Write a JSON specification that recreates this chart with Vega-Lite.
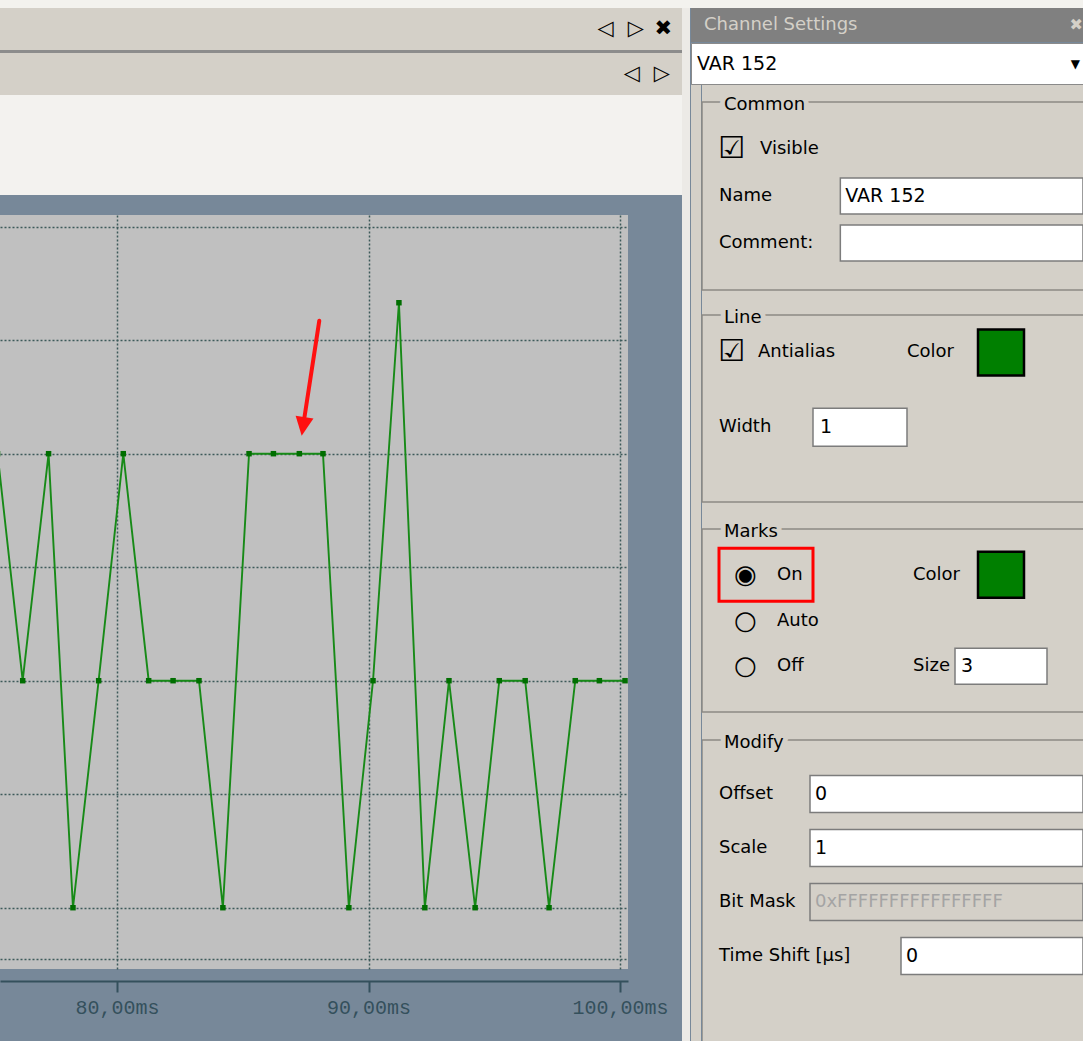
{
  "$schema": "https://vega.github.io/schema/vega-lite/v6.json",
  "background": "#778899",
  "padding": 0,
  "spacing": 0,
  "config": {"view": {"stroke": null}, "font": "DejaVu Sans"},
  "datasets": {
    "signal": [
      {"t": 75.25, "v": 4}, {"t": 76.25, "v": 2}, {"t": 77.28, "v": 4}, {"t": 78.25, "v": 0},
      {"t": 79.27, "v": 2}, {"t": 80.25, "v": 4}, {"t": 81.26, "v": 2}, {"t": 82.23, "v": 2},
      {"t": 83.26, "v": 2}, {"t": 84.21, "v": 0}, {"t": 85.25, "v": 4}, {"t": 86.22, "v": 4},
      {"t": 87.25, "v": 4}, {"t": 88.19, "v": 4}, {"t": 89.22, "v": 0}, {"t": 90.18, "v": 2},
      {"t": 91.21, "v": 5.33}, {"t": 92.24, "v": 0}, {"t": 93.2, "v": 2}, {"t": 94.24, "v": 0},
      {"t": 95.2, "v": 2}, {"t": 96.23, "v": 2}, {"t": 97.18, "v": 0}, {"t": 98.22, "v": 2},
      {"t": 99.18, "v": 2}, {"t": 100.2, "v": 2}
    ]
  },
  "vconcat": [
    {"width": 1083, "height": 8, "view": {"fill": "#f3f2ee"}, "data": {"values": []}, "mark": "point"},
    {
      "spacing": 0,
      "hconcat": [
        {
          "spacing": 20,
          "vconcat": [
            {
              "spacing": 0,
              "vconcat": [
                {
                  "width": 682, "height": 42, "view": {"fill": "#d4d0c8"},
                  "data": {"values": [{"slot": "right", "icons": "◁\u2002\u2006▷\u2002✖"}]},
                  "mark": {"type": "text", "align": "right", "baseline": "middle", "fontSize": 21, "color": "#000000"},
                  "encoding": {
                    "x": {"field": "slot", "type": "nominal", "axis": null, "scale": {"type": "point", "padding": 0, "domain": ["left", "right"], "range": [0, 672]}},
                    "text": {"field": "icons"}
                  }
                },
                {"width": 682, "height": 3, "view": {"fill": "#8c8c8c"}, "data": {"values": []}, "mark": "point"},
                {
                  "width": 682, "height": 42, "view": {"fill": "#d4d0c8"},
                  "data": {"values": [{"slot": "right", "icons": "◁\u2002\u2006▷"}]},
                  "mark": {"type": "text", "align": "right", "baseline": "middle", "fontSize": 21, "color": "#000000"},
                  "encoding": {
                    "x": {"field": "slot", "type": "nominal", "axis": null, "scale": {"type": "point", "padding": 0, "domain": ["left", "right"], "range": [0, 670]}},
                    "text": {"field": "icons"}
                  }
                },
                {"width": 682, "height": 100, "view": {"fill": "#f3f2ef"}, "data": {"values": []}, "mark": "point"}
              ]
            },
            {
              "width": 628, "height": 754, "view": {"fill": "#c0c0c0"},
              "encoding": {
                "x": {
                  "field": "t", "type": "quantitative",
                  "scale": {"domain": [75.348, 100.318], "nice": false, "zero": false},
                  "axis": {
                    "values": [80, 90, 100],
                    "labelExpr": "replace(format(datum.value, '.2f'), '.', ',') + 'ms'",
                    "title": null, "offset": 12,
                    "grid": true, "gridColor": "#3d5a5a", "gridDash": [2, 2], "gridWidth": 1.5,
                    "domainColor": "#34505c", "domainWidth": 2,
                    "tickColor": "#34505c", "tickWidth": 2, "tickSize": 11,
                    "labelFont": "Liberation Mono", "labelFontSize": 20, "labelColor": "#34505c",
                    "labelPadding": 5, "labelFlush": false, "labelOverlap": false
                  }
                },
                "y": {
                  "field": "v", "type": "quantitative",
                  "scale": {"domain": [-0.54, 6.103], "nice": false, "zero": false},
                  "axis": {
                    "values": [-0.456, 0, 1, 2, 3, 4, 5, 6],
                    "title": null, "labels": false, "ticks": false, "domain": false,
                    "grid": true, "gridColor": "#3d5a5a", "gridDash": [2, 2], "gridWidth": 1.5
                  }
                }
              },
              "layer": [
                {"data": {"name": "signal"}, "mark": {"type": "line", "color": "#178a17", "strokeWidth": 1.9, "clip": true}, "encoding": {}},
                {"data": {"name": "signal"}, "mark": {"type": "point", "shape": "square", "filled": true, "size": 30, "color": "#006e00", "opacity": 1, "clip": true}},
                {
                  "data": {"values": [{"t": 88.044, "v": 5.172, "t2": 87.455, "v2": 4.323}]},
                  "mark": {"type": "rule", "color": "#ff1010", "strokeWidth": 4, "strokeCap": "round"},
                  "encoding": {"x2": {"field": "t2"}, "y2": {"field": "v2"}}
                },
                {
                  "data": {"values": [{"t": 87.4, "v": 4.24}]},
                  "mark": {"type": "point", "shape": "M-0.95,-1L0.95,-1L0,1Z", "size": 361, "filled": true, "color": "#ff1010", "opacity": 1, "angle": 8.7}
                }
              ]
            }
          ]
        },
        {"width": 8, "height": 1033, "view": {"fill": "#eceae6"}, "data": {"values": []}, "mark": "point"},
        {
          "spacing": 0,
          "vconcat": [
            {
              "width": 393, "height": 34, "view": {"fill": "#808080"},
              "encoding": {
                "x": {"field": "slot", "type": "nominal", "axis": null, "scale": {"type": "point", "padding": 0, "domain": ["title", "close"], "range": [13, 392]}},
                "text": {"field": "text"}
              },
              "layer": [
                {"data": {"values": [{"slot": "title", "text": "Channel Settings"}]}, "mark": {"type": "text", "align": "left", "baseline": "middle", "fontSize": 18, "color": "#d4d0c8"}},
                {"data": {"values": [{"slot": "close", "text": "✖"}]}, "mark": {"type": "text", "align": "right", "baseline": "middle", "fontSize": 16, "color": "#d4d0c8"}}
              ]
            },
            {
              "width": 393, "height": 41, "view": {"fill": "#ffffff", "stroke": "#8a8a8a"},
              "encoding": {
                "x": {"field": "slot", "type": "nominal", "axis": null, "scale": {"type": "point", "padding": 0, "domain": ["text", "end"], "range": [6, 389]}},
                "text": {"field": "text"}
              },
              "layer": [
                {"data": {"values": [{"slot": "text", "text": "VAR 152"}]}, "mark": {"type": "text", "align": "left", "baseline": "middle", "fontSize": 19, "color": "#000000"}},
                {"data": {"values": [{"slot": "end", "text": "▼"}]}, "mark": {"type": "text", "align": "right", "baseline": "middle", "fontSize": 12, "color": "#000000"}}
              ]
            },
            {
              "spacing": 0,
              "hconcat": [
                {"width": 10, "height": 958, "view": {"fill": "#d4d0c8"}, "data": {"values": []}, "mark": "point"},
                {
                  "spacing": 0,
                  "vconcat": [
                    {
                      "width": 383, "height": 217, "view": {"fill": "#d4d0c8"},
                      "encoding": {
                        "y": {"field": "row", "type": "nominal", "axis": null, "scale": {"type": "point", "padding": 0, "domain": ["title", "Visible", "Name", "Comment", "bottom"], "range": [17, 205]}}
                      },
                      "layer": [
                        {"data": {"values": [{"row": "title", "end": "bottom"}]}, "mark": {"type": "rect", "filled": false, "color": "#8c8984", "strokeWidth": 1.5}, "encoding": {"y2": {"field": "end"}}},
                        {
                          "data": {"values": [{"row": "title", "col": "label", "text": "Common"}]},
                          "mark": {"type": "text", "align": "left", "baseline": "middle", "fontSize": 18, "dx": 5, "dy": 3, "fill": "#d4d0c8", "stroke": "#d4d0c8", "strokeWidth": 10},
                          "encoding": {"x": {"field": "col", "type": "nominal", "axis": null, "scale": {"type": "point", "padding": 0, "domain": ["label", "value", "label2", "end"], "range": [17, 381]}}, "text": {"field": "text"}}
                        },
                        {
                          "data": {"values": [{"row": "title", "col": "label", "text": "Common"}]},
                          "mark": {"type": "text", "align": "left", "baseline": "middle", "fontSize": 18, "dx": 5, "dy": 3, "color": "#000000"},
                          "encoding": {"x": {"field": "col", "type": "nominal"}, "text": {"field": "text"}}
                        },
                        {
                          "data": {"values": [{"row": "Name", "col": "value", "col2": "end"}, {"row": "Comment", "col": "value", "col2": "end"}]},
                          "mark": {"type": "rect", "height": 36, "fill": "#ffffff", "stroke": "#7c7c7c", "strokeWidth": 1.5},
                          "encoding": {"x": {"field": "col", "type": "nominal"}, "x2": {"field": "col2"}}
                        },
                        {
                          "data": {"values": [{"row": "Visible", "col": "label", "text": "☑"}]},
                          "mark": {"type": "text", "align": "left", "baseline": "middle", "fontSize": 30, "dx": -1, "color": "#000000"},
                          "encoding": {"x": {"field": "col", "type": "nominal"}, "text": {"field": "text"}}
                        },
                        {
                          "data": {"values": [{"row": "Visible", "col": "label", "text": "Visible"}]},
                          "mark": {"type": "text", "align": "left", "baseline": "middle", "fontSize": 18, "dx": 41, "color": "#000000"},
                          "encoding": {"x": {"field": "col", "type": "nominal"}, "text": {"field": "text"}}
                        },
                        {
                          "data": {"values": [{"row": "Name", "col": "label", "text": "Name"}, {"row": "Comment", "col": "label", "text": "Comment:"}]},
                          "mark": {"type": "text", "align": "left", "baseline": "middle", "fontSize": 18, "color": "#000000"},
                          "encoding": {"x": {"field": "col", "type": "nominal"}, "text": {"field": "text"}}
                        },
                        {
                          "data": {"values": [{"row": "Name", "col": "value", "text": "VAR 152"}]},
                          "mark": {"type": "text", "align": "left", "baseline": "middle", "fontSize": 19, "dx": 5, "color": "#000000"},
                          "encoding": {"x": {"field": "col", "type": "nominal"}, "text": {"field": "text"}}
                        }
                      ]
                    },
                    {
                      "width": 383, "height": 214, "view": {"fill": "#d4d0c8"},
                      "encoding": {
                        "y": {"field": "row", "type": "nominal", "axis": null, "scale": {"type": "point", "padding": 0, "domain": ["title", "Antialias", "g1", "Width", "g2", "bottom"], "range": [13, 200]}}
                      },
                      "layer": [
                        {"data": {"values": [{"row": "title", "end": "bottom"}]}, "mark": {"type": "rect", "filled": false, "color": "#8c8984", "strokeWidth": 1.5}, "encoding": {"y2": {"field": "end"}}},
                        {
                          "data": {"values": [{"row": "title", "col": "label", "text": "Line"}]},
                          "mark": {"type": "text", "align": "left", "baseline": "middle", "fontSize": 18, "dx": 5, "dy": 3, "fill": "#d4d0c8", "stroke": "#d4d0c8", "strokeWidth": 10},
                          "encoding": {"x": {"field": "col", "type": "nominal", "axis": null, "scale": {"type": "point", "padding": 0, "domain": ["label", "value", "label2", "swatch", "end"], "range": [17, 393]}}, "text": {"field": "text"}}
                        },
                        {
                          "data": {"values": [{"row": "title", "col": "label", "text": "Line"}]},
                          "mark": {"type": "text", "align": "left", "baseline": "middle", "fontSize": 18, "dx": 5, "dy": 3, "color": "#000000"},
                          "encoding": {"x": {"field": "col", "type": "nominal"}, "text": {"field": "text"}}
                        },
                        {
                          "data": {"values": [{"row": "Width", "col": "value", "col2": "label2"}]},
                          "mark": {"type": "rect", "height": 38, "fill": "#ffffff", "stroke": "#7c7c7c", "strokeWidth": 1.5},
                          "encoding": {"x": {"field": "col", "type": "nominal"}, "x2": {"field": "col2"}}
                        },
                        {
                          "data": {"values": [{"row": "Antialias", "col": "label", "text": "☑"}]},
                          "mark": {"type": "text", "align": "left", "baseline": "middle", "fontSize": 30, "dx": -1, "color": "#000000"},
                          "encoding": {"x": {"field": "col", "type": "nominal"}, "text": {"field": "text"}}
                        },
                        {
                          "data": {"values": [{"row": "Antialias", "col": "label", "text": "Antialias"}]},
                          "mark": {"type": "text", "align": "left", "baseline": "middle", "fontSize": 18, "dx": 39, "color": "#000000"},
                          "encoding": {"x": {"field": "col", "type": "nominal"}, "text": {"field": "text"}}
                        },
                        {
                          "data": {"values": [{"row": "Antialias", "col": "label2", "text": "Color"}, {"row": "Width", "col": "label", "text": "Width"}]},
                          "mark": {"type": "text", "align": "left", "baseline": "middle", "fontSize": 18, "color": "#000000"},
                          "encoding": {"x": {"field": "col", "type": "nominal"}, "text": {"field": "text"}}
                        },
                        {
                          "data": {"values": [{"row": "Width", "col": "value", "text": "1"}]},
                          "mark": {"type": "text", "align": "left", "baseline": "middle", "fontSize": 19, "dx": 7, "color": "#000000"},
                          "encoding": {"x": {"field": "col", "type": "nominal"}, "text": {"field": "text"}}
                        },
                        {
                          "data": {"values": [{"row": "Antialias", "col": "swatch"}]},
                          "mark": {"type": "point", "shape": "square", "size": 2116, "filled": true, "fill": "#007f00", "stroke": "#000000", "strokeWidth": 2.5, "opacity": 1},
                          "encoding": {"x": {"field": "col", "type": "nominal"}}
                        }
                      ]
                    },
                    {
                      "width": 383, "height": 210, "view": {"fill": "#d4d0c8"},
                      "encoding": {
                        "y": {"field": "row", "type": "nominal", "axis": null, "scale": {"type": "point", "padding": 0, "domain": ["title", "On", "Auto", "Off", "bottom"], "range": [13, 196]}}
                      },
                      "layer": [
                        {"data": {"values": [{"row": "title", "end": "bottom"}]}, "mark": {"type": "rect", "filled": false, "color": "#8c8984", "strokeWidth": 1.5}, "encoding": {"y2": {"field": "end"}}},
                        {
                          "data": {"values": [{"row": "title", "col": "label", "text": "Marks"}]},
                          "mark": {"type": "text", "align": "left", "baseline": "middle", "fontSize": 18, "dx": 5, "dy": 3, "fill": "#d4d0c8", "stroke": "#d4d0c8", "strokeWidth": 10},
                          "encoding": {"x": {"field": "col", "type": "nominal", "axis": null, "scale": {"type": "point", "padding": 0, "domain": ["label", "value", "label2", "swatch", "end"], "range": [17, 393]}}, "text": {"field": "text"}}
                        },
                        {
                          "data": {"values": [{"row": "title", "col": "label", "text": "Marks"}]},
                          "mark": {"type": "text", "align": "left", "baseline": "middle", "fontSize": 18, "dx": 5, "dy": 3, "color": "#000000"},
                          "encoding": {"x": {"field": "col", "type": "nominal"}, "text": {"field": "text"}}
                        },
                        {
                          "data": {"values": [{"row": "On", "col": "label", "col2": "value"}]},
                          "mark": {"type": "rect", "height": 53, "filled": false, "color": "#ff0000", "strokeWidth": 3},
                          "encoding": {"x": {"field": "col", "type": "nominal"}, "x2": {"field": "col2"}}
                        },
                        {
                          "data": {"values": [{"row": "Off", "col": "swatch"}]},
                          "mark": {"type": "rect", "height": 36, "width": 92, "fill": "#ffffff", "stroke": "#7c7c7c", "strokeWidth": 1.5},
                          "encoding": {"x": {"field": "col", "type": "nominal"}}
                        },
                        {
                          "data": {"values": [{"row": "On", "col": "label", "text": "◉"}, {"row": "Auto", "col": "label", "text": "○"}, {"row": "Off", "col": "label", "text": "○"}]},
                          "mark": {"type": "text", "align": "left", "baseline": "middle", "fontSize": 26, "dx": 15, "color": "#000000"},
                          "encoding": {"x": {"field": "col", "type": "nominal"}, "text": {"field": "text"}}
                        },
                        {
                          "data": {"values": [{"row": "On", "col": "label", "text": "On"}, {"row": "Auto", "col": "label", "text": "Auto"}, {"row": "Off", "col": "label", "text": "Off"}]},
                          "mark": {"type": "text", "align": "left", "baseline": "middle", "fontSize": 18, "dx": 58, "color": "#000000"},
                          "encoding": {"x": {"field": "col", "type": "nominal"}, "text": {"field": "text"}}
                        },
                        {
                          "data": {"values": [{"row": "On", "col": "label2", "text": "Color"}, {"row": "Off", "col": "label2", "text": "Size"}]},
                          "mark": {"type": "text", "align": "left", "baseline": "middle", "fontSize": 18, "dx": 6, "color": "#000000"},
                          "encoding": {"x": {"field": "col", "type": "nominal"}, "text": {"field": "text"}}
                        },
                        {
                          "data": {"values": [{"row": "Off", "col": "swatch", "text": "3"}]},
                          "mark": {"type": "text", "align": "left", "baseline": "middle", "fontSize": 19, "dx": -40, "color": "#000000"},
                          "encoding": {"x": {"field": "col", "type": "nominal"}, "text": {"field": "text"}}
                        },
                        {
                          "data": {"values": [{"row": "On", "col": "swatch"}]},
                          "mark": {"type": "point", "shape": "square", "size": 2116, "filled": true, "fill": "#007f00", "stroke": "#000000", "strokeWidth": 2.5, "opacity": 1},
                          "encoding": {"x": {"field": "col", "type": "nominal"}}
                        }
                      ]
                    },
                    {
                      "width": 383, "height": 317, "view": {"fill": "#d4d0c8"},
                      "encoding": {
                        "y": {"field": "row", "type": "nominal", "axis": null, "scale": {"type": "point", "padding": 0, "domain": ["title", "Offset", "Scale", "BitMask", "TimeShift", "pad", "end"], "range": [14, 338]}}
                      },
                      "layer": [
                        {"data": {"values": [{"row": "title", "end": "end"}]}, "mark": {"type": "rect", "filled": false, "color": "#8c8984", "strokeWidth": 1.5, "clip": true}, "encoding": {"y2": {"field": "end"}}},
                        {
                          "data": {"values": [{"row": "title", "col": "label", "text": "Modify"}]},
                          "mark": {"type": "text", "align": "left", "baseline": "middle", "fontSize": 18, "dx": 5, "dy": 3, "fill": "#d4d0c8", "stroke": "#d4d0c8", "strokeWidth": 10},
                          "encoding": {"x": {"field": "col", "type": "nominal", "axis": null, "scale": {"type": "point", "padding": 0, "domain": ["label", "value", "label2", "value2", "end"], "range": [17, 381]}}, "text": {"field": "text"}}
                        },
                        {
                          "data": {"values": [{"row": "title", "col": "label", "text": "Modify"}]},
                          "mark": {"type": "text", "align": "left", "baseline": "middle", "fontSize": 18, "dx": 5, "dy": 3, "color": "#000000"},
                          "encoding": {"x": {"field": "col", "type": "nominal"}, "text": {"field": "text"}}
                        },
                        {
                          "data": {"values": [{"row": "Offset", "col": "value", "col2": "end"}, {"row": "Scale", "col": "value", "col2": "end"}, {"row": "TimeShift", "col": "label2", "col2": "end"}]},
                          "mark": {"type": "rect", "height": 37, "fill": "#ffffff", "stroke": "#7c7c7c", "strokeWidth": 1.5},
                          "encoding": {"x": {"field": "col", "type": "nominal"}, "x2": {"field": "col2"}}
                        },
                        {
                          "data": {"values": [{"row": "BitMask", "col": "value", "col2": "end"}]},
                          "mark": {"type": "rect", "height": 37, "fill": "#d4d0c8", "stroke": "#7c7c7c", "strokeWidth": 1.5},
                          "encoding": {"x": {"field": "col", "type": "nominal"}, "x2": {"field": "col2"}}
                        },
                        {
                          "data": {"values": [{"row": "Offset", "col": "label", "text": "Offset"}, {"row": "Scale", "col": "label", "text": "Scale"}, {"row": "BitMask", "col": "label", "text": "Bit Mask"}, {"row": "TimeShift", "col": "label", "text": "Time Shift [µs]"}]},
                          "mark": {"type": "text", "align": "left", "baseline": "middle", "fontSize": 18, "color": "#000000"},
                          "encoding": {"x": {"field": "col", "type": "nominal"}, "text": {"field": "text"}}
                        },
                        {
                          "data": {"values": [{"row": "Offset", "col": "value", "text": "0"}, {"row": "Scale", "col": "value", "text": "1"}, {"row": "TimeShift", "col": "label2", "text": "0"}]},
                          "mark": {"type": "text", "align": "left", "baseline": "middle", "fontSize": 19, "dx": 5, "color": "#000000"},
                          "encoding": {"x": {"field": "col", "type": "nominal"}, "text": {"field": "text"}}
                        },
                        {
                          "data": {"values": [{"row": "BitMask", "col": "value", "text": "0xFFFFFFFFFFFFFFFF"}]},
                          "mark": {"type": "text", "align": "left", "baseline": "middle", "fontSize": 18, "dx": 5, "color": "#a4a4a4"},
                          "encoding": {"x": {"field": "col", "type": "nominal"}, "text": {"field": "text"}}
                        }
                      ]
                    }
                  ]
                }
              ]
            }
          ]
        }
      ]
    }
  ]
}
